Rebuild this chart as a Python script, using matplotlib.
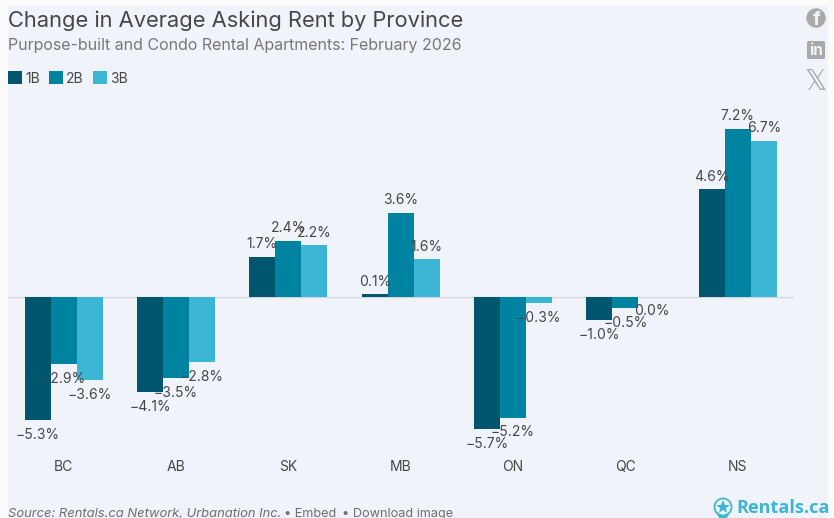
import matplotlib
matplotlib.use("Agg")
import matplotlib.pyplot as plt
import numpy as np
from matplotlib.patches import Rectangle, Circle, FancyBboxPatch, Polygon

plt.rcParams['font.family'] = ['Inter', 'DejaVu Sans']

provinces = ['BC', 'AB', 'SK', 'MB', 'ON', 'QC', 'NS']
one_bed = [-5.3, -4.1, 1.7, 0.1, -5.7, -1.0, 4.6]
two_bed = [-2.9, -3.5, 2.4, 3.6, -5.2, -0.5, 7.2]
three_bed = [-3.6, -2.8, 2.2, 1.6, -0.3, 0.0, 6.7]
series_names = ['1B', '2B', '3B']
colors = ['#00566f', '#0083a1', '#3db5d4']
title = 'Change in Average Asking Rent by Province'
subtitle = 'Purpose-built and Condo Rental Apartments: February 2026'
source = 'Source: Rentals.ca Network, Urbanation Inc.'

W, H = 834, 518
TXT = '#464646'
GREY = '#a9a9a9'
PANEL = '#f0f3f9'
fig = plt.figure(figsize=(W / 100, H / 100), dpi=100, facecolor='#fbfbfb')


def fx(x):
    return x / W


def fy(y):
    return 1 - y / H


fig.add_artist(Rectangle((fx(8), 0), fx(820), fy(6), transform=fig.transFigure,
                         facecolor=PANEL, edgecolor='none', zorder=-5))

# y scale: zero at 296.5 px, 23.28 px per percent
top_px, bot_px = 90, 454
ax = fig.add_axes([fx(7.5), fy(bot_px), fx(786.4), (bot_px - top_px) / H])
ax.patch.set_alpha(0)
ax.set_xlim(-0.5, 6.5)
ax.set_ylim(-(bot_px - 296.5) / 23.28, (296.5 - top_px) / 23.28)

x = np.arange(len(provinces))
w = 26 / 112.4
all_series = [one_bed, two_bed, three_bed]
for i, (vals, name, col) in enumerate(zip(all_series, series_names, colors)):
    ax.bar(x + (i - 1) * w, vals, width=w, color=col, label=name, zorder=2)

ax.axhline(0, color='#d3d7dd', lw=1, zorder=1)
for i, vals in enumerate(all_series):
    for xi, v in zip(x, vals):
        negative = v <= 0
        s = f'{v:.1f}%'.replace('-', '\u2212')
        ax.annotate(s, (xi + (i - 1) * w, v), xytext=(0, -10.7 if negative else 9),
                    textcoords='offset points', ha='center', va='center',
                    fontsize=10, color=TXT, zorder=3)

for s in ax.spines.values():
    s.set_visible(False)
ax.set_yticks([])
ax.set_xticks(x, provinces)
ax.tick_params(axis='x', length=0, pad=4, labelsize=10, labelcolor=TXT)

ax.legend(loc='upper left', bbox_to_anchor=(fx(8), fy(71.5)), bbox_transform=fig.transFigure,
          ncol=3, frameon=False, fontsize=10, handlelength=1.02, handleheight=1.02,
          handletextpad=0.2, columnspacing=0.68, borderpad=0, borderaxespad=0, labelcolor=TXT)

fig.text(fx(8), fy(20.5), title, fontsize=15.75, color=TXT, va='center', ha='left')
fig.text(fx(8), fy(45.5), subtitle, fontsize=11.5, color='#777777', va='center', ha='left')

fig.text(fx(8), fy(514), source, fontsize=9.35, color='#6f6f6f', style='italic', va='center', ha='left')
fig.text(fx(284.5), fy(514), '\u2022 Embed', fontsize=9.1, color='#6f6f6f', va='center', ha='left')
fig.text(fx(341.5), fy(514), '\u2022 Download image', fontsize=9.15, color='#6f6f6f', va='center', ha='left')


# share icons
ov = fig.add_axes([0, 0, 1, 1], zorder=5)
ov.set_xlim(0, W)
ov.set_ylim(H, 0)
ov.axis('off')
ov.add_patch(Circle((816, 18), 9.7, color=GREY, lw=0))
ov.text(816.8, 20, 'f', fontsize=14, fontweight='bold', color=PANEL, ha='center', va='center')
ov.add_patch(FancyBboxPatch((807, 41), 18, 18, boxstyle='round,pad=0,rounding_size=1.5', color=GREY, lw=0))
ov.text(816, 50.5, 'in', fontsize=11, fontweight='bold', color=PANEL, ha='center', va='center')
ov.text(816, 81.5, '\U0001D54F', fontsize=20, color=GREY, ha='center', va='center',
        family=['DejaVu Sans'])

# brand mark
BRAND = '#3db5d4'
ov.add_patch(Polygon([[716, 513], [730, 513], [723, 523]], closed=True, facecolor=BRAND, edgecolor='none'))
ov.add_patch(Circle((723, 507), 8.5, facecolor='#f7fafc', edgecolor=BRAND, lw=1.3))
ov.plot([723], [507], marker='*', ms=10, color=BRAND, mew=0)
ov.text(736, 508, 'Rentals.ca', fontsize=13.1, fontweight='bold', color=BRAND, ha='left', va='center',
        family=['Open Sans', 'DejaVu Sans'])

fig.savefig('out.png', dpi=100, facecolor=fig.get_facecolor())
